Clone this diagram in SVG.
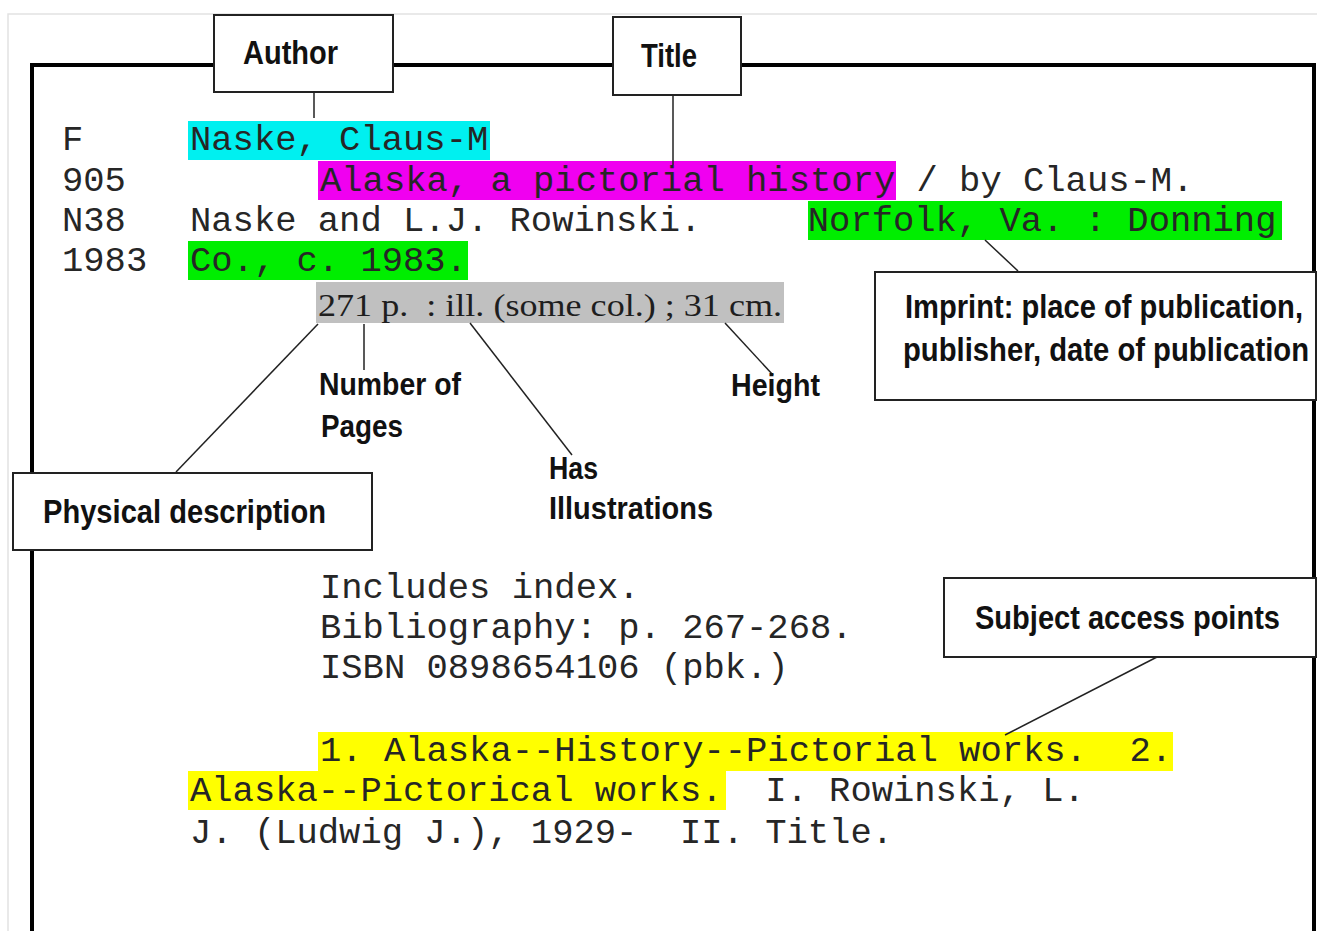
<svg xmlns="http://www.w3.org/2000/svg" width="1317" height="931" viewBox="0 0 1317 931">
<style>
.mono{font-family:"Liberation Mono","DejaVu Sans Mono",monospace;font-size:35.5px;fill:#262626;white-space:pre}
.lbl{font-family:"Liberation Sans","DejaVu Sans",sans-serif;font-weight:bold;fill:#111;white-space:pre}
.box{fill:#fff;stroke:#222;stroke-width:2}
.conn{stroke:#222;stroke-width:1.5;fill:none}
</style>
<rect x="0" y="0" width="1317" height="931" fill="#fff"/>
<rect x="8" y="14" width="1320" height="930" fill="none" stroke="#e2e2e2" stroke-width="1.5"/>
<g id="card">
<path d="M32,931 V65 H1314 V931" fill="none" stroke="#000" stroke-width="4"/>
<rect x="188" y="121" width="302" height="39" fill="#00f0f0"/>
<rect x="318" y="161" width="578" height="39" fill="#f000f0"/>
<rect x="808" y="201" width="474" height="39" fill="#00ee00"/>
<rect x="188" y="241" width="280" height="39" fill="#00ee00"/>
<rect x="316" y="282" width="468" height="41" fill="#c0c0c0"/>
<rect x="318" y="732" width="855" height="39" fill="#ffff00"/>
<rect x="188" y="771" width="538" height="39" fill="#ffff00"/>
<text class="mono" x="62" y="150">F</text>
<text class="mono" x="62" y="191">905</text>
<text class="mono" x="62" y="231">N38</text>
<text class="mono" x="62" y="271">1983</text>
<text class="mono" x="190" y="150">Naske, Claus-M</text>
<text class="mono" x="320" y="191">Alaska, a pictorial history / by Claus-M.</text>
<text class="mono" x="190" y="231">Naske and L.J. Rowinski.     Norfolk, Va. : Donning</text>
<text class="mono" x="190" y="271">Co., c. 1983.</text>
<text x="318" y="316" font-family="Liberation Serif,'DejaVu Serif',serif" font-size="31" fill="#1e1e1e" textLength="464" lengthAdjust="spacingAndGlyphs" style="white-space:pre">271 p.  : ill. (some col.) ; 31 cm.</text>
<text class="mono" x="320" y="598">Includes index.</text>
<text class="mono" x="320" y="638">Bibliography: p. 267-268.</text>
<text class="mono" x="320" y="678">ISBN 0898654106 (pbk.)</text>
<text class="mono" x="320" y="761">1. Alaska--History--Pictorial works.  2.</text>
<text class="mono" x="190" y="801">Alaska--Pictorical works.  I. Rowinski, L.</text>
<text class="mono" x="190" y="843">J. (Ludwig J.), 1929-  II. Title.</text>
</g>
<g id="connectors">
<line class="conn" x1="314" y1="92" x2="314" y2="118"/>
<line class="conn" x1="673" y1="95" x2="673" y2="165"/>
<line class="conn" x1="985" y1="240" x2="1018" y2="271"/>
<line class="conn" x1="318" y1="324" x2="176" y2="472"/>
<line class="conn" x1="364" y1="324" x2="364" y2="370"/>
<line class="conn" x1="470" y1="323" x2="572" y2="455"/>
<line class="conn" x1="725" y1="323" x2="773" y2="375"/>
<line class="conn" x1="1157" y1="657" x2="1005" y2="735"/>
</g>
<g id="author">
<rect class="box" x="214" y="15" width="179" height="77"/>
<text class="lbl" x="243" y="64" font-size="34" textLength="95" lengthAdjust="spacingAndGlyphs">Author</text>
</g>
<g id="title">
<rect class="box" x="613" y="17" width="128" height="78"/>
<text class="lbl" x="641" y="67" font-size="34" textLength="56" lengthAdjust="spacingAndGlyphs">Title</text>
</g>
<g id="imprint">
<rect class="box" x="875" y="272" width="441" height="128"/>
<text class="lbl" transform="translate(905 318) scale(1 1.17)" font-size="29" textLength="398" lengthAdjust="spacingAndGlyphs">Imprint: place of publication,</text>
<text class="lbl" transform="translate(903 361) scale(1 1.16)" font-size="29" textLength="406" lengthAdjust="spacingAndGlyphs">publisher, date of publication</text>
</g>
<g id="physical">
<rect class="box" x="13" y="473" width="359" height="77"/>
<text class="lbl" x="43" y="523" font-size="34" textLength="283" lengthAdjust="spacingAndGlyphs">Physical description</text>
</g>
<g id="pages">
<text class="lbl" x="319" y="395" font-size="32" textLength="142" lengthAdjust="spacingAndGlyphs">Number of</text>
<text class="lbl" x="321" y="437" font-size="32" textLength="82" lengthAdjust="spacingAndGlyphs">Pages</text>
</g>
<g id="illustrations">
<text class="lbl" x="549" y="479" font-size="32" textLength="49" lengthAdjust="spacingAndGlyphs">Has</text>
<text class="lbl" x="549" y="519" font-size="32" textLength="164" lengthAdjust="spacingAndGlyphs">Illustrations</text>
</g>
<g id="height">
<text class="lbl" x="731" y="396" font-size="32" textLength="89" lengthAdjust="spacingAndGlyphs">Height</text>
</g>
<g id="subject">
<rect class="box" x="944" y="578" width="372" height="79"/>
<text class="lbl" transform="translate(975 629) scale(1 1.17)" font-size="29" textLength="305" lengthAdjust="spacingAndGlyphs">Subject access points</text>
</g>
</svg>
